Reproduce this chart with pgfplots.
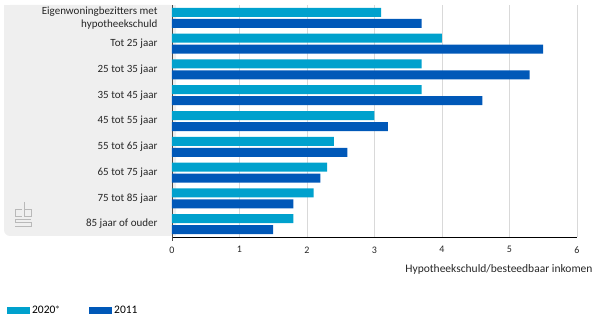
\documentclass[border=0pt]{standalone}
\usepackage{pgfplots}
\pgfplotsset{compat=1.18}
\usepackage{fontspec}
\setmainfont{Carlito}
\definecolor{c2020}{HTML}{00A1CD}
\definecolor{c2011}{HTML}{0058B8}
\definecolor{panel}{HTML}{EFEFEF}
\definecolor{gridc}{HTML}{D9D9D9}
\begin{document}
\begin{tikzpicture}
\useasboundingbox (0pt,0pt) rectangle (600pt,321pt);
% gray panel behind labels
\fill[panel, rounded corners=6pt] (4pt,85pt) rectangle (176pt,316pt);
\fill[panel] (4pt,300pt) rectangle (176pt,316pt);
\fill[panel] (160pt,85pt) rectangle (176pt,100pt);
% small logo
\begin{scope}[draw=gray!55, line width=0.45pt, double=panel, double distance=1.1pt]
\draw (22pt,112pt) -- (15pt,112pt) -- (15pt,105pt) -- (22pt,105pt);
\draw (24pt,119pt) -- (24pt,105pt) -- (31pt,105pt) -- (31pt,112pt) -- (24pt,112pt);
\draw (31pt,102pt) -- (15pt,102pt) -- (15pt,98.5pt) -- (31pt,98.5pt) -- (31pt,95pt) -- (15pt,95pt);
\end{scope}
\begin{axis}[
  at={(172pt,84pt)}, anchor=south west,
  scale only axis, width=405pt, height=232pt,
  xbar, bar width=9pt,
  xmin=0, xmax=6, ymin=-0.5, ymax=8.5, y dir=reverse,
  xtick={0,1,2,3,4,5,6},
  ytick={0,...,8},
  yticklabels={{Eigenwoningbezitters met\\hypotheekschuld},Tot 25 jaar,25 tot 35 jaar,35 tot 45 jaar,45 tot 55 jaar,55 tot 65 jaar,65 tot 75 jaar,75 tot 85 jaar,85 jaar of ouder},
  yticklabel style={align=right, font=\fontsize{11}{12.5}\selectfont, xshift=-11pt, text=black!85},
  xticklabel style={font=\fontsize{10}{11}\selectfont, text=black!85, yshift=-6pt},
  /pgf/number format/assume math mode=true,
  major tick length=0pt,
  xmajorgrids, grid style={gridc, line width=0.7pt},
  axis x line=none,
  hide x axis=false,
  separate axis lines,
  axis y line*=left,
  y axis line style={draw=black!70, line width=0.8pt, shorten >=-4pt},
  xlabel={Hypotheekschuld/besteedbaar inkomen},
  xlabel style={at={(rel axis cs:1,0)}, anchor=north east, xshift=19pt, yshift=-24pt, font=\fontsize{11.5}{13}\selectfont, text=black!85},
  legend style={at={(rel axis cs:-0.415,-0.315)}, anchor=west, draw=none, fill=none, legend columns=2, font=\fontsize{11.5}{13}\selectfont, /tikz/every even column/.append style={column sep=27pt}},
  legend image code/.code={\fill[#1] (0pt,-3.5pt) rectangle (23pt,3.5pt);},
  clip=false,
]
\addplot[fill=c2020, draw=none, bar shift=5.5pt] coordinates {
(3.1,0) (4.0,1) (3.7,2) (3.7,3) (3.0,4) (2.4,5) (2.3,6) (2.1,7) (1.8,8)};
\addplot[fill=c2011, draw=none, bar shift=-5.5pt] coordinates {
(3.7,0) (5.5,1) (5.3,2) (4.6,3) (3.2,4) (2.6,5) (2.2,6) (1.8,7) (1.5,8)};
\legend{2020$^*$,2011}
\end{axis}
\end{tikzpicture}
\end{document}
